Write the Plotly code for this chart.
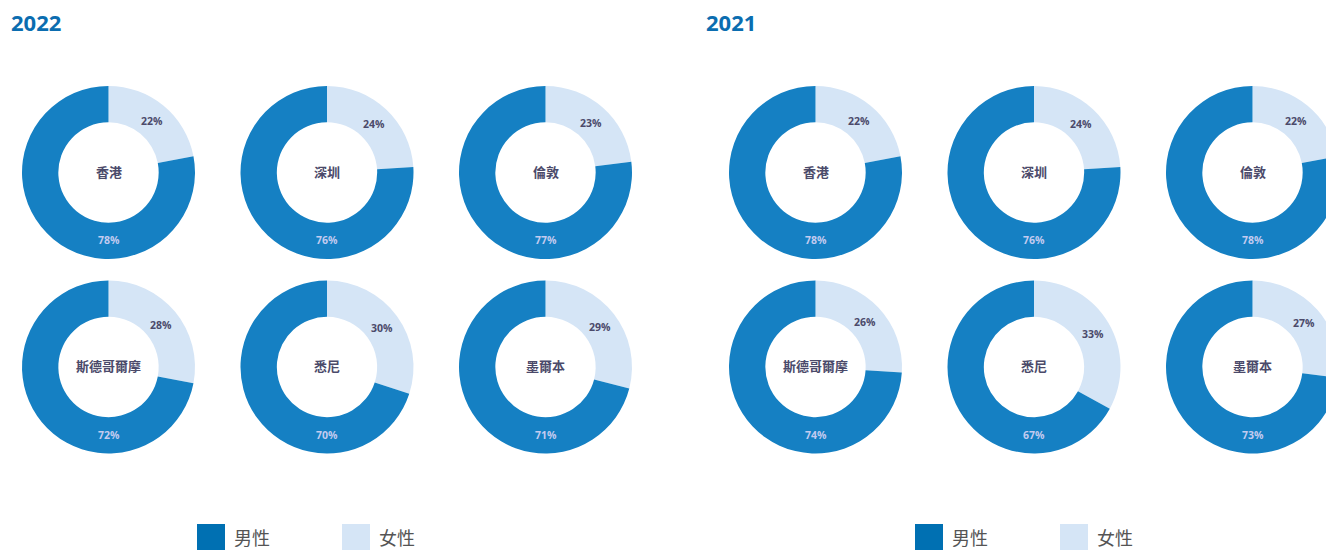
import math
import plotly.graph_objects as go

# ---------------- data ----------------
years = ["2022", "2021"]
cities = ["香港", "深圳", "倫敦", "斯德哥爾摩", "悉尼", "墨爾本"]
female_2022 = [22, 24, 23, 28, 30, 29]
male_2022 = [78, 76, 77, 72, 70, 71]
female_2021 = [22, 24, 22, 26, 33, 27]
male_2021 = [78, 76, 78, 74, 67, 73]
legend_labels = ["男性", "女性"]

female_by_year = [female_2022, female_2021]
male_by_year = [male_2022, male_2021]

# ---------------- layout constants (pixels) ----------------
W, H = 1326, 550          # visible window
FW = 1400                 # figure is slightly wider; right edge is cut off by the window
R = 86.5
HOLE = 0.58
RM = 68.5
panel_x0 = [108.5, 815.5]
col_dx = 218.5
row_y = [172.5, 367.0]

MALE_C = "#1580c3"
FEMALE_C = "#d5e5f6"
LEG_MALE_C = "#0070b2"
TXT_DARK = "#4b4a6a"
TXT_LIGHT = "#c3cbf0"
TITLE_C = "#0b6db0"
FONT = "Open Sans, Noto Sans CJK TC, sans-serif"
CJK = "Noto Sans CJK TC, sans-serif"


def px(x):
    return x / FW


def py(y):
    return 1 - y / H


fig = go.Figure()
annotations = []
shapes = []

for p, year in enumerate(years):
    fem = female_by_year[p]
    mal = male_by_year[p]
    for i, city in enumerate(cities):
        cx = panel_x0[p] + (i % 3) * col_dx
        cy = row_y[i // 3]
        fig.add_trace(go.Pie(
            values=[fem[i], mal[i]],
            labels=[legend_labels[1], legend_labels[0]],
            marker=dict(colors=[FEMALE_C, MALE_C], line=dict(width=0)),
            hole=HOLE,
            sort=False,
            direction="clockwise",
            rotation=0,
            textinfo="none",
            hoverinfo="label+percent",
            showlegend=False,
            domain=dict(x=[px(cx - R), px(cx + R)], y=[py(cy + R), py(cy - R)]),
        ))
        # centre label
        annotations.append(dict(
            x=px(cx), y=py(cy - 1.5), xref="paper", yref="paper", text=f"<b>{city}</b>",
            showarrow=False, font=dict(family=CJK, size=13, color=TXT_DARK),
            xanchor="center", yanchor="middle"))
        # female label at middle of its slice
        a = math.radians(fem[i] / (fem[i] + mal[i]) * 360 / 2)
        annotations.append(dict(
            x=px(cx + RM * math.sin(a)), y=py(cy - RM * math.cos(a) + 1.5),
            xref="paper", yref="paper", text=f"<b>{fem[i]}%</b>", showarrow=False,
            font=dict(family=FONT, size=10.5, color=TXT_DARK),
            xanchor="center", yanchor="middle"))
        # male label at bottom of ring
        annotations.append(dict(
            x=px(cx), y=py(cy + RM - 1), xref="paper", yref="paper",
            text=f"<b>{mal[i]}%</b>", showarrow=False,
            font=dict(family=FONT, size=10.5, color=TXT_LIGHT),
            xanchor="center", yanchor="middle"))

    # panel title
    tx = 9 if p == 0 else 704
    annotations.append(dict(
        x=px(tx), y=py(22), xref="paper", yref="paper", text=f"<b>{year}</b>",
        showarrow=False, font=dict(family=FONT, size=22, color=TITLE_C),
        xanchor="left", yanchor="middle"))

    # legend
    lx = [197, 342] if p == 0 else [915, 1060]
    for k, (lab, col) in enumerate(zip(legend_labels, [LEG_MALE_C, FEMALE_C])):
        shapes.append(dict(type="rect", xref="paper", yref="paper",
                           x0=px(lx[k]), x1=px(lx[k] + 28), y0=py(552), y1=py(524),
                           fillcolor=col, line=dict(width=0)))
        annotations.append(dict(
            x=px(lx[k] + 35), y=py(536.5), xref="paper", yref="paper", text=lab,
            showarrow=False, font=dict(family=CJK, size=18, color="#555555"),
            xanchor="left", yanchor="middle"))

fig.update_layout(
    width=FW, height=H, autosize=False,
    margin=dict(l=0, r=0, t=0, b=0),
    paper_bgcolor="white", plot_bgcolor="white",
    annotations=annotations, shapes=shapes,
    showlegend=False,
)

fig.write_html("out.html", post_script="document.body.style.margin='0';document.body.style.overflow='hidden';")
